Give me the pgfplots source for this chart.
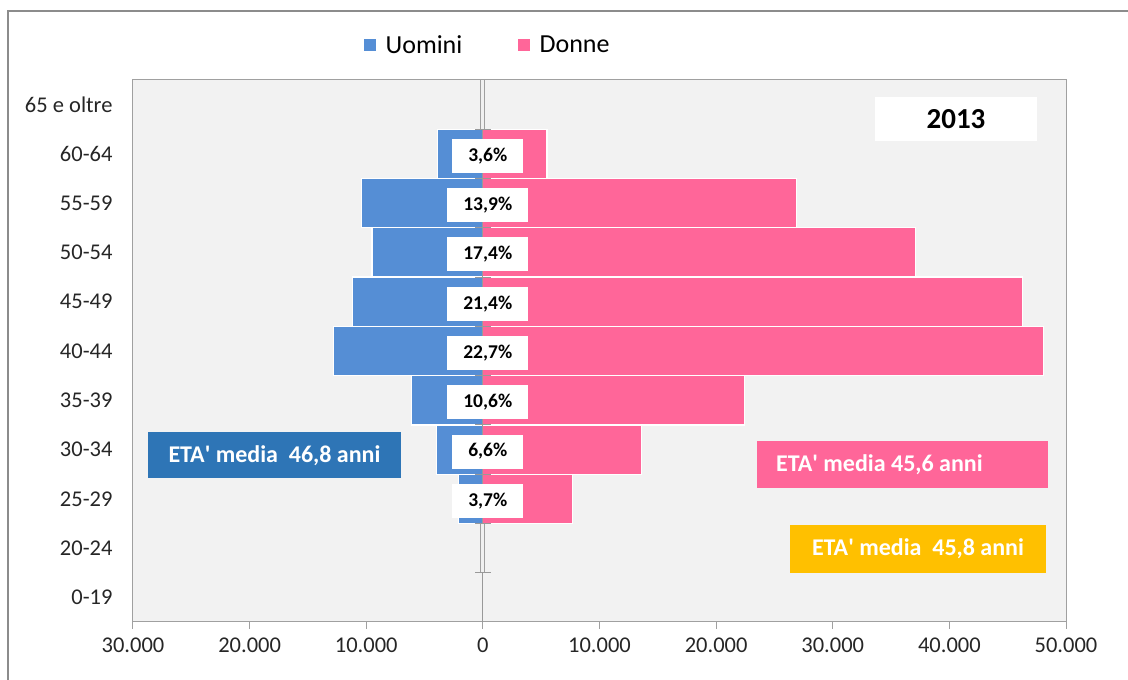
\documentclass[border=0pt]{standalone}
\usepackage{fontspec}
\setmainfont{Carlito}
\usepackage{pgfplots}
\pgfplotsset{compat=1.18}
\definecolor{blueb}{HTML}{558ED5}
\definecolor{pinkb}{HTML}{FF6699}
\definecolor{boxblue}{HTML}{2E75B6}
\definecolor{boxyel}{HTML}{FFC000}
\definecolor{plotbg}{HTML}{F2F2F2}
\definecolor{axgray}{HTML}{A0A0A0}
\definecolor{framegray}{HTML}{8C8C8C}
\begin{document}
\begin{tikzpicture}[x=1pt,y=1pt]
\path[use as bounding box] (0,0) rectangle (1128,680);
\draw[framegray, line width=2pt] (8,-5) -- (8,669) -- (1135,669);
\begin{axis}[
  at={(133pt,58pt)}, anchor=south west, scale only axis,
  width=933pt, height=542pt,
  xmin=-30000, xmax=50000, ymin=-0.5, ymax=10.5,
  scaled x ticks=false,
  axis background/.style={fill=plotbg},
  axis line style={axgray, line width=1pt},
  xtick={-30000,-20000,...,50000},
  xticklabels={30.000,20.000,10.000,0,10.000,20.000,30.000,40.000,50.000},
  ytick={0,...,10},
  yticklabels={0-19,20-24,25-29,30-34,35-39,40-44,45-49,50-54,55-59,60-64,65 e oltre},
  tick align=outside, xtick pos=bottom, ytick pos=left, major tick length=7pt,
  ytick style={draw=none},
  xtick style={axgray, line width=1pt},
  tick label style={font=\fontsize{22.5}{26}\selectfont, text=black!85},
  xticklabel style={yshift=-5pt},
  yticklabel style={xshift=-10pt},
  legend style={at={(0.3794,1.0646)}, anchor=center, draw=none, fill=none,
    font=\fontsize{26}{30}\selectfont, legend columns=2,
    /tikz/every even column/.append style={column sep=52pt},
    /tikz/every odd column/.append style={column sep=6pt},
    legend cell align=left},
  legend image code/.code={\fill[#1] (0pt,-7pt) rectangle (14pt,7pt);},
]
% double axis line (behind bars)
\addplot[forget plot, draw=gray!75, double=gray!12, double distance=3pt, line width=1pt] coordinates {(0,0.5) (0,10.5)};
% bars
\addplot[xbar, bar width=49.27pt, bar shift=0pt, fill=blueb, draw=white, line width=1.2pt]
  coordinates {(-2100,2) (-4000,3) (-6100,4) (-12800,5) (-11200,6) (-9500,7) (-10400,8) (-3900,9)};
\addlegendentry{Uomini}
\addplot[xbar, bar width=49.27pt, bar shift=0pt, fill=pinkb, draw=white, line width=1.2pt]
  coordinates {(7700,2) (13600,3) (22400,4) (48100,5) (46300,6) (37100,7) (26900,8) (5500,9)};
\addlegendentry{Donne}
% thin axis line
\addplot[forget plot, gray!80, line width=1.2pt] coordinates {(0,-0.5) (0,0.5)};
\addplot[forget plot, gray!80, line width=1.2pt] coordinates {(0,1.5) (0,9.5)};
\addplot[forget plot, only marks, mark=-, mark size=8pt, mark options={gray!80, line width=1pt}]
  coordinates {(0,0.5) (0,1.5) (0,2.5) (0,3.5) (0,4.5) (0,5.5) (0,6.5) (0,7.5) (0,8.5) (0,9.5)};
% percentage labels
\addplot[forget plot, draw=none, mark=none, nodes near coords, point meta=explicit symbolic,
  nodes near coords style={anchor=center, fill=white, text=black,
    font=\bfseries\fontsize{19.5}{21}\selectfont, inner xsep=16pt, minimum height=34pt}]
  coordinates {(420,1.96) [3,7\%] (420,2.96) [6,6\%] (420,3.96) [10,6\%] (420,4.96) [22,7\%] (420,5.96) [21,4\%]
    (420,6.96) [17,4\%] (420,7.96) [13,9\%] (420,8.96) [3,6\%]};
\end{axis}
% annotation boxes
\node[fill=boxblue, text=white, font=\bfseries\fontsize{24}{28}\selectfont,
  minimum width=253pt, minimum height=46pt, inner sep=0pt] at (274.5,224.5)
  {ETA\textquotesingle{} media\ \ 46,8 anni};
\fill[pinkb] (757,192) rectangle (1048,239);
\node[anchor=west, text=white, font=\bfseries\fontsize{24}{28}\selectfont, inner sep=0pt]
  at (776,215.5) {ETA\textquotesingle{} media 45,6 anni};
\node[fill=boxyel, text=white, font=\bfseries\fontsize{24}{28}\selectfont,
  minimum width=256pt, minimum height=48pt, inner sep=0pt] at (918,131)
  {ETA\textquotesingle{} media\ \ 45,8 anni};
\node[fill=white, text=black, font=\bfseries\fontsize{29}{32}\selectfont,
  minimum width=162pt, minimum height=44pt, inner sep=0pt] at (956,561) {2013};
\end{tikzpicture}
\end{document}
